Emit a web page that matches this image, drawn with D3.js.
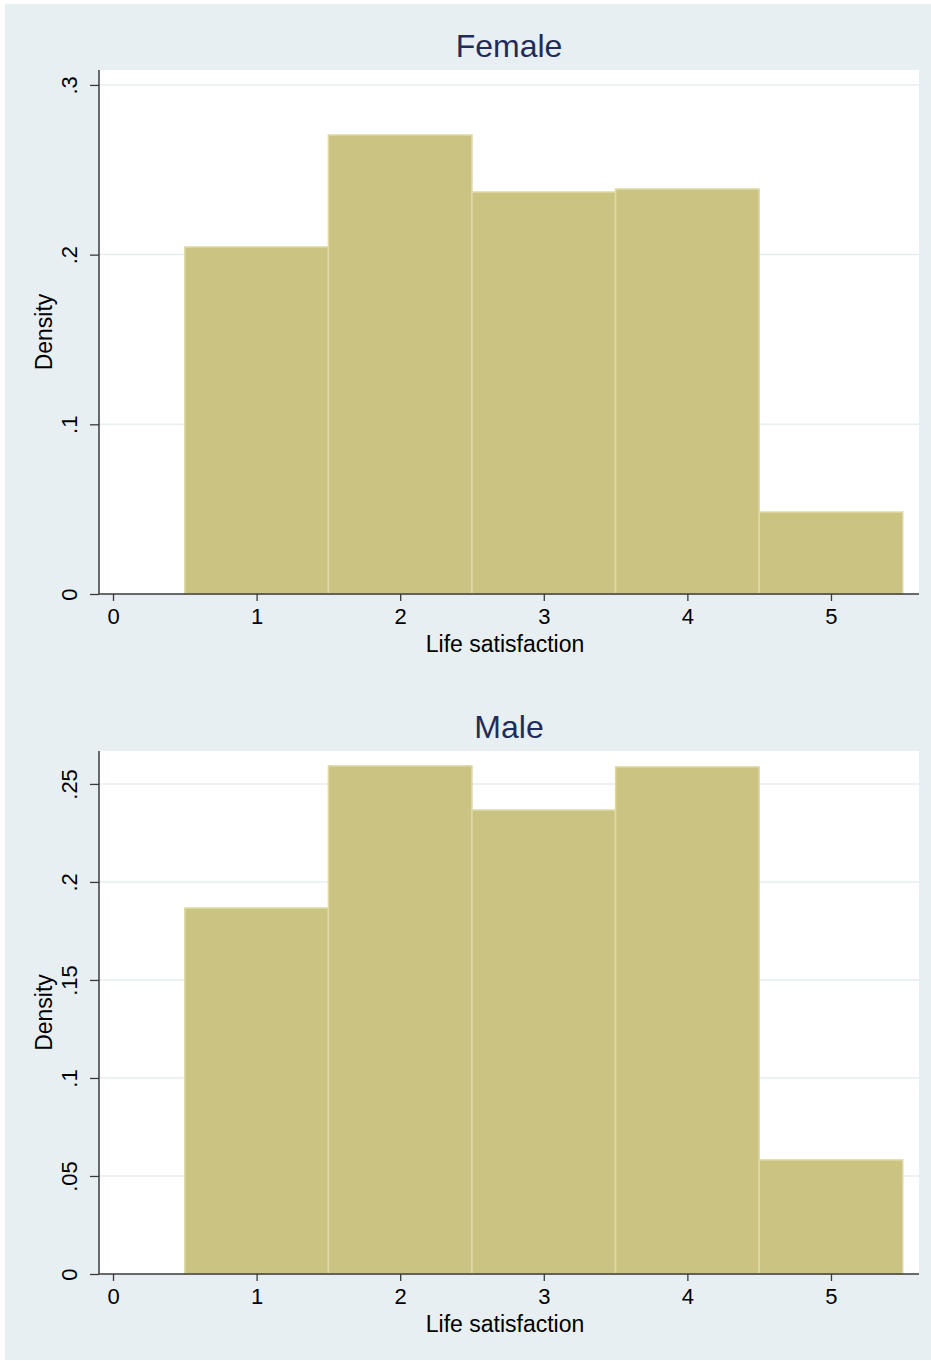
<!DOCTYPE html>
<html>
<head>
<meta charset="utf-8">
<script src="https://cdn.jsdelivr.net/npm/d3@7/dist/d3.min.js"></script>
<style>
  html, body { margin: 0; padding: 0; background: #ffffff; }
  svg { display: block; }
  text { font-family: "Liberation Sans", Arial, Helvetica, sans-serif; }
</style>
</head>
<body>
<div id="chart"></div>
<script>
// Life satisfaction histograms (density), one panel per gender
const categories = [1, 2, 3, 4, 5];
const binWidth = 1;
const femaleDensity = [0.2045, 0.2705, 0.2369, 0.2387, 0.0483];
const maleDensity = [0.1867, 0.2592, 0.2367, 0.2587, 0.0582];
const xTicks = [0, 1, 2, 3, 4, 5];
const femaleYTicks = [0, 0.1, 0.2, 0.3];
const femaleYLabels = ["0", ".1", ".2", ".3"];
const maleYTicks = [0, 0.05, 0.1, 0.15, 0.2, 0.25];
const maleYLabels = ["0", ".05", ".1", ".15", ".2", ".25"];
const panelTitles = ["Female", "Male"];
const xTitle = "Life satisfaction";
const yTitle = "Density";

const W = 931, H = 1361;
const svg = d3.select("#chart").append("svg").attr("width", W).attr("height", H);

svg.append("rect").attr("x", 5).attr("y", 4).attr("width", W - 5).attr("height", 1356)
  .attr("fill", "#e8eff2");

const barFill = "#cbc381";
const barStroke = "#dedaa6";
const axisColor = "#3a3a3a";

function panel(cfg) {
  const g = svg.append("g");
  const x = d3.scaleLinear().domain([-0.0975, 5.613]).range([99, 919]);
  const y = d3.scaleLinear().domain([0, cfg.yMax]).range([cfg.bottom, cfg.top]);

  // plot region
  g.append("rect").attr("x", 99).attr("y", cfg.top)
    .attr("width", 820).attr("height", cfg.bottom - cfg.top).attr("fill", "#ffffff");

  // gridlines
  g.selectAll(".grid").data(cfg.yTicks.filter(d => d > 0)).enter().append("line")
    .attr("x1", 99).attr("x2", 919)
    .attr("y1", d => y(d)).attr("y2", d => y(d))
    .attr("stroke", "#e6eef0").attr("stroke-width", 1.5);

  // bars
  g.selectAll(".bar").data(cfg.values).enter().append("rect")
    .attr("x", (d, i) => x(categories[i] - binWidth / 2))
    .attr("width", (d, i) => x(categories[i] + binWidth / 2) - x(categories[i] - binWidth / 2))
    .attr("y", d => y(d))
    .attr("height", d => y(0) - y(d))
    .attr("fill", barFill).attr("stroke", barStroke).attr("stroke-width", 1.5);

  // y axis
  const yAxis = d3.axisLeft(y).tickValues(cfg.yTicks)
    .tickFormat((d, i) => cfg.yLabels[i]).tickSize(9).tickPadding(0);
  const ya = g.append("g").attr("transform", "translate(99,0)").call(yAxis);
  ya.select(".domain").attr("stroke", axisColor).attr("stroke-width", 1.5)
    .attr("d", `M0,${cfg.top}V${cfg.bottom}`);
  ya.selectAll(".tick line").attr("stroke", axisColor).attr("stroke-width", 1.3);
  ya.selectAll(".tick text")
    .attr("x", 0).attr("y", 0).attr("dy", 0)
    .attr("transform", "translate(-22,0) rotate(-90)")
    .attr("text-anchor", "middle")
    .attr("fill", "#000").style("font-size", "22px");

  // x axis
  const xAxis = d3.axisBottom(x).tickValues(xTicks).tickFormat(d3.format("d"))
    .tickSize(7).tickPadding(0);
  const xa = g.append("g").attr("transform", `translate(0,${cfg.bottom})`).call(xAxis);
  xa.select(".domain").attr("stroke", axisColor).attr("stroke-width", 1.5)
    .attr("d", "M99,0H919");
  xa.selectAll(".tick line").attr("stroke", axisColor).attr("stroke-width", 1.3);
  xa.selectAll(".tick text").attr("y", 30).attr("dy", 0)
    .attr("fill", "#000").style("font-size", "22px");

  // titles
  g.append("text").attr("x", 509).attr("y", cfg.top - 13.5)
    .attr("text-anchor", "middle").attr("fill", "#1e2d5c")
    .style("font-size", "32px").text(cfg.title);
  g.append("text").attr("x", 505).attr("y", cfg.bottom + 57.5)
    .attr("text-anchor", "middle").attr("fill", "#000")
    .style("font-size", "23px").text(xTitle);
  g.append("text")
    .attr("transform", `translate(52,${(cfg.top + cfg.bottom) / 2}) rotate(-90)`)
    .attr("text-anchor", "middle").attr("fill", "#000")
    .style("font-size", "23px").text(yTitle);
}

panel({ title: panelTitles[0], values: femaleDensity, top: 70, bottom: 594,
        yMax: 0.3088, yTicks: femaleYTicks, yLabels: femaleYLabels });
panel({ title: panelTitles[1], values: maleDensity, top: 751, bottom: 1274,
        yMax: 0.2668, yTicks: maleYTicks, yLabels: maleYLabels });
</script>
</body>
</html>
